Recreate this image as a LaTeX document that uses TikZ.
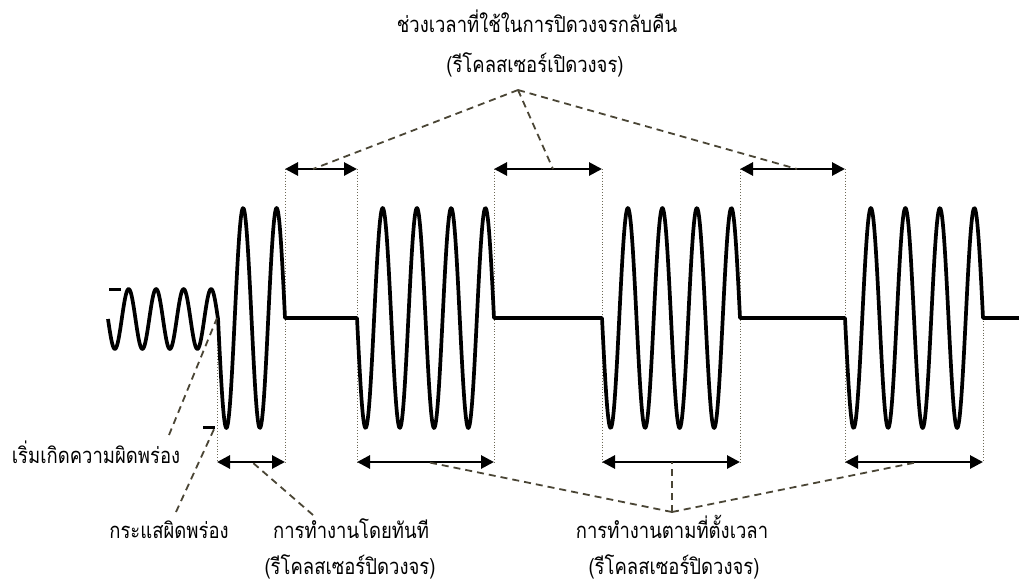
\documentclass[tikz,border=0pt]{standalone}
\usepackage{fontspec}
\newfontfamily\thai[Script=Thai,FakeStretch=0.84]{Loma}
\usetikzlibrary{arrows.meta}
\definecolor{callout}{HTML}{4A4535}
\definecolor{guide}{HTML}{6E6A58}
\tikzset{
  wave/.style={line width=3.7pt, black, line join=round},
  span/.style={line width=2.8pt, {Triangle[length=13pt,width=13pt]}-{Triangle[length=13pt,width=13pt]}},
  guideline/.style={guide, line width=0.9pt, dotted},
  calloutline/.style={callout, line width=1.8pt, dash pattern=on 7pt off 5pt},
  lbl/.style={font=\thai\fontsize{22}{26}\selectfont, inner sep=0pt, anchor=base},
  tick/.style={line width=3pt, black}
}
\begin{document}
\begin{tikzpicture}[x=1pt,y=-1pt]
\useasboundingbox (0,0) rectangle (1019,584);
% guide coordinates
\coordinate (amid) at (217,318); \coordinate (abot) at (217,462);
\coordinate (btop) at (285,169); \coordinate (bbot) at (285,462);
\coordinate (ctop) at (357,169); \coordinate (cbot) at (357,462);
\coordinate (dtop) at (494,169); \coordinate (dbot) at (494,462);
\coordinate (etop) at (602,169); \coordinate (ebot) at (602,462);
\coordinate (ftop) at (740,169); \coordinate (fbot) at (740,462);
\coordinate (gtop) at (845,169); \coordinate (gbot) at (845,462);
\coordinate (hmid) at (983,318); \coordinate (hbot) at (983,462);
% dotted guides
\draw[guideline] (btop) -- (bbot);
\draw[guideline] (ctop) -- (cbot);
\draw[guideline] (dtop) -- (dbot);
\draw[guideline] (etop) -- (ebot);
\draw[guideline] (ftop) -- (fbot);
\draw[guideline] (gtop) -- (gbot);
\draw[guideline] (amid) -- (abot);
\draw[guideline] (hmid) -- (hbot);
% waveform
\draw[wave]
  plot[domain=108:218,samples=160] (\x,{319+30*sin(360/27.5*(\x-108))})
  -- plot[domain=218:285,samples=120] (\x,{318+110*sin(360/33.5*(\x-218))})
  -- (357,318)
  -- plot[domain=357:494,samples=220] (\x,{318+110*sin(360/34.25*(\x-357))})
  -- (602,318)
  -- plot[domain=602:740,samples=220] (\x,{318+110*sin(360/34.5*(\x-602))})
  -- (845,318)
  -- plot[domain=845:983,samples=220] (\x,{318+110*sin(360/34.5*(\x-845))})
  -- (1019,318);
% tick marks
\coordinate (t1a) at (109,289); \coordinate (t1b) at (121,289);
\coordinate (t2a) at (203,427); \coordinate (t2b) at (215,427);
\draw[tick] (t1a) -- (t1b);
\draw[tick] (t2a) -- (t2b);
% span arrows
\draw[span] (btop) -- (ctop);
\draw[span] (dtop) -- (etop);
\draw[span] (ftop) -- (gtop);
\draw[span] (abot) -- (bbot);
\draw[span] (cbot) -- (dbot);
\draw[span] (ebot) -- (fbot);
\draw[span] (gbot) -- (hbot);
% labels
\node[lbl] (top1) at (537,32) {ช่วงเวลาที่ใช้ในการปิดวงจรกลับคืน};
\node[lbl] (top2) at (535,72) {(รีโคลสเซอร์เปิดวงจร)};
\node[lbl] (start) at (96,463) {เริ่มเกิดความผิดพร่อง};
\node[lbl] (fcur) at (169,538) {กระแสผิดพร่อง};
\node[lbl] (inst1) at (351,538) {การทำงานโดยทันที};
\node[lbl] (inst2) at (350,574) {(รีโคลสเซอร์ปิดวงจร)};
\node[lbl] (timed1) at (672,538) {การทำงานตามที่ตั้งเวลา};
\node[lbl] (timed2) at (674,574) {(รีโคลสเซอร์ปิดวงจร)};
% callouts
\coordinate (apexT) at (518,90);
\coordinate (r1) at (313,169);
\coordinate (r2) at (553,169);
\coordinate (r3) at (797,169);
\draw[calloutline] (apexT) -- (r1);
\draw[calloutline] (apexT) -- (r2);
\draw[calloutline] (apexT) -- (r3);
\coordinate (s0) at (169,435);
\draw[calloutline] (s0) -- (amid);
\coordinate (fc0) at (176,512);
\draw[calloutline] (fc0) -- (t2b);
\coordinate (i0) at (313,515);
\coordinate (i1) at (252,462);
\draw[calloutline] (i0) -- (i1);
\coordinate (apexB) at (672,512);
\coordinate (q1) at (427,462);
\coordinate (q2) at (672,462);
\coordinate (q3) at (918,462);
\draw[calloutline] (apexB) -- (q1);
\draw[calloutline] (apexB) -- (q2);
\draw[calloutline] (apexB) -- (q3);
\end{tikzpicture}
\end{document}
